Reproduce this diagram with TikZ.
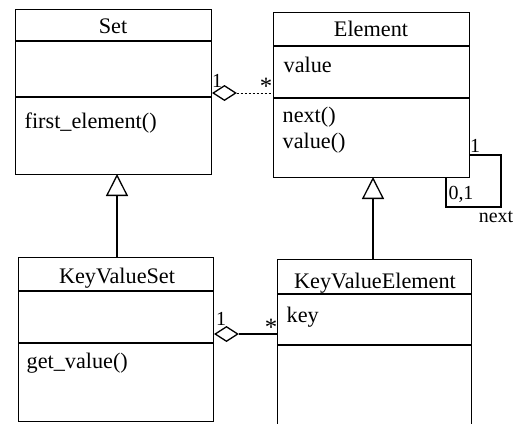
\documentclass[tikz,border=0pt]{standalone}
\usepackage{fontspec}
\setmainfont{Liberation Serif}
\usetikzlibrary{shapes.geometric,arrows.meta}
\begin{document}
\begin{tikzpicture}[x=1bp,y=-1bp,line width=1.3bp,
  cls/.style={draw,rectangle,inner sep=0pt,anchor=north west},
  txt/.style={inner sep=0pt,font=\fontsize{22.3}{25}\selectfont},
  lft/.style={txt,anchor=base west},
  ctr/.style={txt,anchor=base},
  mult/.style={inner sep=0pt,font=\fontsize{20}{22}\selectfont},
  star/.style={inner sep=0pt,font=\fontsize{25}{27}\selectfont},
  agg/.style={draw,diamond,fill=white,inner sep=0pt,minimum width=23bp,minimum height=15bp,anchor=west},
  inherit/.style={-{Triangle[open,length=22bp,width=22bp]}},
  assoc/.style={line width=1bp,dash pattern=on 2.5bp off 1.5bp}]
\clip (0,0) rectangle (528,423);
\fill[white] (0,0) rectangle (528,423);
% class boxes
\node[cls,minimum width=196bp,minimum height=165bp] (set) at (15,9) {};
\node[cls,minimum width=196bp,minimum height=165bp] (elem) at (273,12) {};
\node[cls,minimum width=195bp,minimum height=164bp] (kvs) at (18,257) {};
\node[cls,minimum width=194bp,minimum height=190bp] (kve) at (277,259) {};
% compartments
\draw (set.west |- 0,41) -- (set.east |- 0,41);
\draw (set.west |- 0,97) -- (set.east |- 0,97);
\draw (elem.west |- 0,46) -- (elem.east |- 0,46);
\draw (elem.west |- 0,98) -- (elem.east |- 0,98);
\draw (kvs.west |- 0,291) -- (kvs.east |- 0,291);
\draw (kvs.west |- 0,343) -- (kvs.east |- 0,343);
\draw (kve.west |- 0,294) -- (kve.east |- 0,294);
\draw (kve.west |- 0,345) -- (kve.east |- 0,345);
% texts
\node[ctr] (tset) at (113,33) {Set};
\node[lft] (tfirst) at (24,128) {first\_element()};
\node[ctr] (telem) at (371,36) {Element};
\node[lft] (tvalue) at (283,72) {value};
\node[lft] (tnext) at (282,122) {next()};
\node[lft] (tvalf) at (282,148) {value()};
\node[ctr] (tkvs) at (117,283) {KeyValueSet};
\node[lft] (tget) at (26,368) {get\_value()};
\node[ctr] (tkve) at (375,288) {KeyValueElement};
\node[lft] (tkey) at (286,322) {key};
% aggregation Set - Element
\node[agg] (d1) at (set.east |- 0,93) {};
\draw[assoc] (d1.east) -- (elem.west |- d1.east);
\node[mult] (m1a) at (217,81) {1};
\node[star] (m1b) at (266,86) {*};
% aggregation KeyValueSet - KeyValueElement
\node[agg] (d2) at (kvs.east |- 0,334) {};
\draw (d2.east) -- (kve.west |- d2.east);
\node[mult] (m2a) at (221,319) {1};
\node[star] (m2b) at (271,327) {*};
% inheritance
\coordinate (i1) at (117,257);
\coordinate (i1t) at (117,174);
\draw[inherit] (i1) -- (i1t);
\coordinate (i2) at (373,259);
\coordinate (i2t) at (373,177);
\draw[inherit] (i2) -- (i2t);
% self association on Element
\coordinate (s1) at (469,155);
\coordinate (s2) at (446,177);
\draw (s1) -- (501,155) -- (501,207) -- (446,207) -- (s2);
\node[mult] (m3a) at (475,146) {1};
\node[mult] (m3b) at (461,194) {0,1};
\node[mult] (m3c) at (496,217) {next};
\end{tikzpicture}
\end{document}
